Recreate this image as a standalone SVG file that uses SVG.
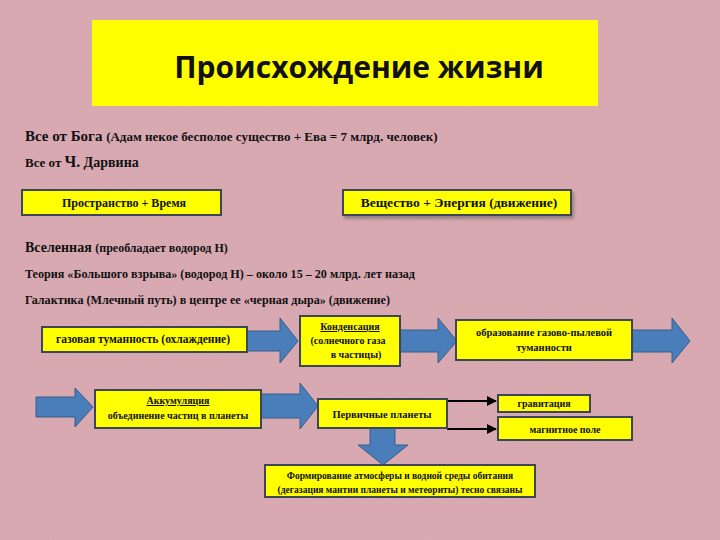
<svg xmlns="http://www.w3.org/2000/svg" width="720" height="540" viewBox="0 0 720 540">
<defs>
<filter id="tex" x="0" y="0" width="100%" height="100%">
<feTurbulence type="fractalNoise" baseFrequency="0.9" numOctaves="2" seed="3" result="n"/>
<feColorMatrix type="matrix" values="0 0 0 0 0.85  0 0 0 0 0.66  0 0 0 0 0.70  0 0 0 0.18 0" in="n" result="c"/>
<feBlend in="SourceGraphic" in2="c" mode="multiply"/>
</filter>
<filter id="sh" x="-10%" y="-20%" width="130%" height="160%">
<feDropShadow dx="2" dy="3" stdDeviation="1.5" flood-color="#555" flood-opacity="0.5"/>
</filter>
<marker id="ah" viewBox="0 0 10 10" refX="9" refY="5" markerWidth="5" markerHeight="5" orient="auto">
<path d="M0,0 L10,5 L0,10 z" fill="#000"/>
</marker>
</defs>
<style>
.bx{fill:#ffff00;stroke:#3d4654;stroke-width:2}
.t{font-family:"Liberation Serif","Times New Roman",serif;font-weight:bold;fill:#111}
.c{text-anchor:middle}
.ar{fill:#4a7ebb;stroke:#385d8a;stroke-width:1}
.ln{stroke:#000;stroke-width:2;fill:none;marker-end:url(#ah)}
</style>
<rect width="720" height="540" fill="#d9abb3"/>
<rect width="720" height="540" fill="#d9abb3" filter="url(#tex)"/>

<g id="title">
<rect x="92" y="20" width="506" height="86" fill="#ffff00"/>
<text x="359" y="78" font-family="'Open Sans','Liberation Sans',sans-serif" font-weight="bold" font-size="30" text-anchor="middle" fill="#111">Происхождение жизни</text>
</g>

<g id="text-god">
<text class="t" x="25" y="141" font-size="15">Все от Бога <tspan font-size="13">(Адам некое бесполое существо + Ева = 7 млрд. человек)</tspan></text>
</g>
<g id="text-darwin">
<text class="t" x="25" y="167" font-size="13">Все от <tspan font-size="16">Ч.</tspan> <tspan font-size="14">Дарвина</tspan></text>
</g>

<g id="n-space">
<rect class="bx" x="22" y="190" width="199" height="25"/>
<text class="t c" x="124" y="207" font-size="12">Пространство + Время</text>
</g>
<g id="n-matter">
<rect class="bx" x="343" y="190" width="228" height="25" filter="url(#sh)"/>
<text class="t c" x="459" y="207" font-size="13.5">Вещество + Энергия (движение)</text>
</g>

<g id="text-universe">
<text class="t" x="25" y="252" font-size="14">Вселенная <tspan font-size="12">(преобладает водород Н)</tspan></text>
</g>
<g id="text-bigbang">
<text class="t" x="25" y="278" font-size="11.5" textLength="390" lengthAdjust="spacingAndGlyphs">Теория «Большого взрыва» (водород Н) – около 15 – 20 млрд. лет назад</text>
</g>
<g id="text-galaxy">
<text class="t" x="25" y="304" font-size="11.5" textLength="365" lengthAdjust="spacingAndGlyphs">Галактика (Млечный путь) в центре ее «черная дыра» (движение)</text>
</g>

<g id="connectors">
<path class="ar" d="M247,331 H280 V318 L298,341 L280,363 V351 H247 Z"/>
<path class="ar" d="M400,330 H438 V318 L457,341 L438,363 V352 H400 Z"/>
<path class="ar" d="M632,330 H672 V318 L690,341 L672,363 V352 H632 Z"/>
<path class="ar" d="M36,397 H75 V388 L93,407 L75,427 V417 H36 Z"/>
<path class="ar" d="M261,394 H300 V383 L318,406 L300,429 V418 H261 Z"/>
<path class="ar" d="M370,428 H395 V445 H408 L383,465 L358,445 H370 Z"/>
<path class="ln" d="M447,401 H496"/>
<path class="ln" d="M447,429 H496"/>
</g>

<g id="n-gas">
<rect class="bx" x="42" y="327" width="205" height="25"/>
<text class="t c" x="143" y="343" font-size="11.5">газовая туманность (охлаждение)</text>
</g>
<g id="n-cond">
<rect class="bx" x="300" y="316" width="100" height="50"/>
<text class="t c" x="350" y="330" font-size="10" text-decoration="underline">Конденсация</text>
<text class="t c" x="348" y="344" font-size="10">(солнечного газа</text>
<text class="t c" x="356" y="358" font-size="10">в частицы)</text>
</g>
<g id="n-dust">
<rect class="bx" x="456" y="320" width="176" height="40"/>
<text class="t c" x="544" y="336" font-size="10.5">образование газово-пылевой</text>
<text class="t c" x="544" y="351" font-size="10.5">туманности</text>
</g>
<g id="n-accum">
<rect class="bx" x="95" y="390" width="166" height="38"/>
<text class="t c" x="178" y="404" font-size="10" text-decoration="underline">Аккумуляция</text>
<text class="t c" x="178" y="419" font-size="10">объединение частиц в планеты</text>
</g>
<g id="n-planets">
<rect class="bx" x="318" y="399" width="129" height="29"/>
<text class="t c" x="382" y="418" font-size="10.5">Первичные планеты</text>
</g>
<g id="n-grav">
<rect class="bx" x="498" y="395" width="92" height="17"/>
<text class="t c" x="544" y="407" font-size="10">гравитация</text>
</g>
<g id="n-mag">
<rect class="bx" x="498" y="417" width="134" height="23"/>
<text class="t c" x="565" y="433" font-size="10">магнитное поле</text>
</g>
<g id="n-atmos">
<rect class="bx" x="265" y="465" width="270" height="32"/>
<text class="t c" x="400" y="479" font-size="9.5">Формирование атмосферы и водной среды обитания</text>
<text class="t c" x="400" y="493" font-size="9.5">(дегазация мантии планеты и метеориты) тесно связаны</text>
</g>
</svg>
